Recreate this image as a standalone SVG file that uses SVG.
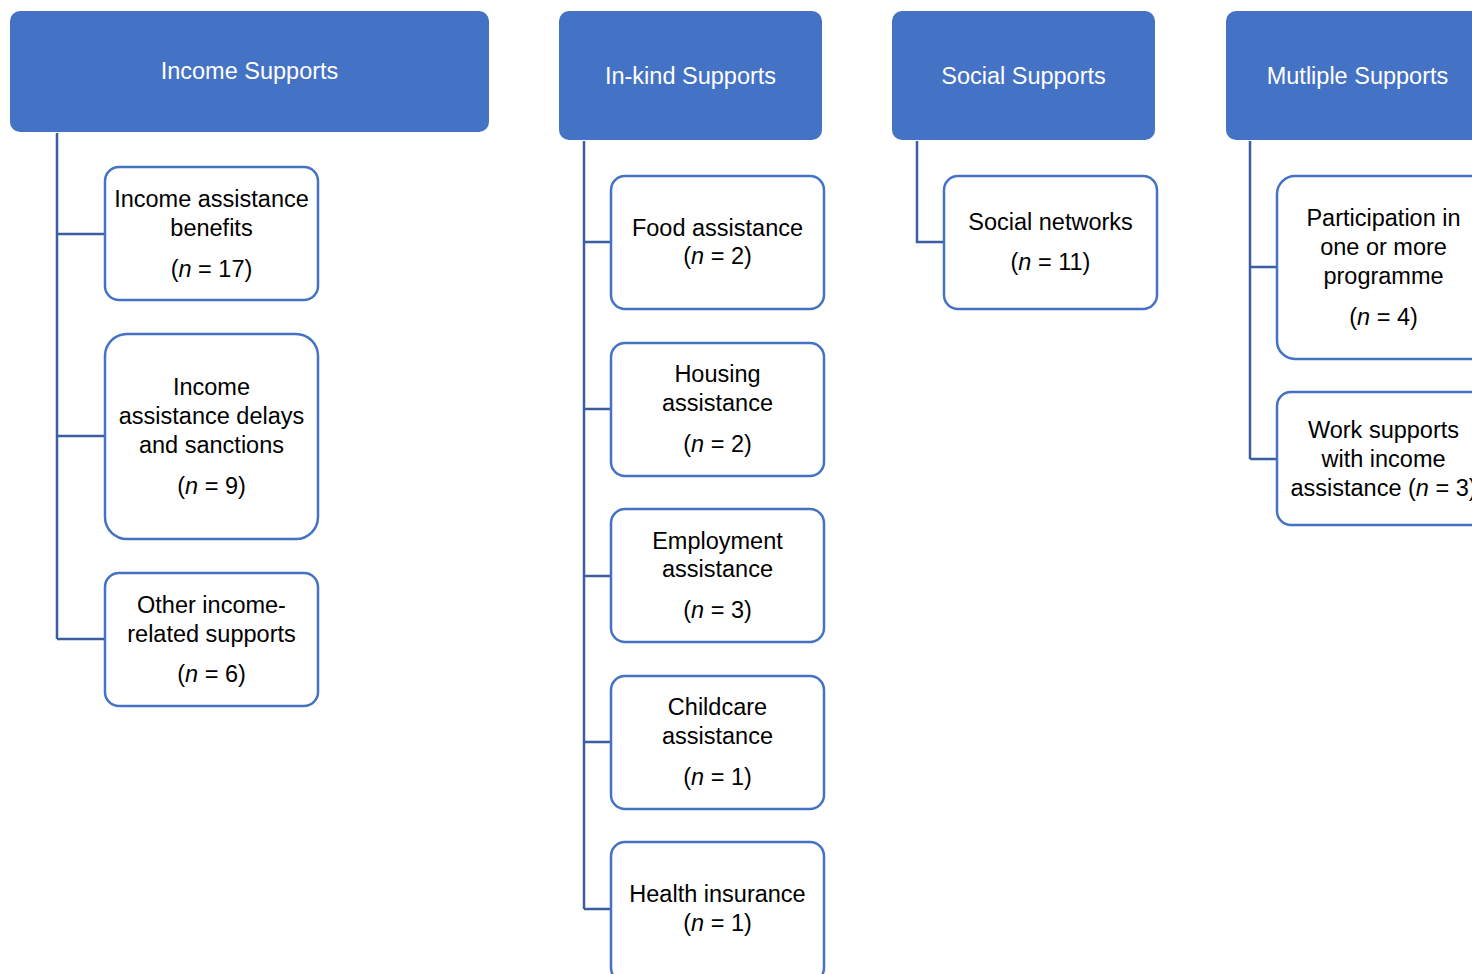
<svg xmlns="http://www.w3.org/2000/svg" width="1472" height="974" viewBox="0 0 1472 974">
<style>
.hdr{fill:#4472C4;}
.box{fill:#fff;stroke:#4472C4;stroke-width:2.5;}
.conn{fill:none;stroke:#3A5EA0;stroke-width:2.5;}
text{font-family:"Liberation Sans",Arial,sans-serif;font-size:23.5px;text-anchor:middle;fill:#000;}
.ht{fill:#fff;}
</style>
<rect width="1472" height="974" fill="#fff"/>
<g id="connectors">
<path class="conn" d="M57,133 V639 M57,234 H105 M57,436 H105 M57,639 H105"/>
<path class="conn" d="M584,141 V909 M584,242 H611 M584,409 H611 M584,576 H611 M584,742 H611 M584,909 H611"/>
<path class="conn" d="M917,141 V242 H944"/>
<path class="conn" d="M1250,141 V459 M1250,267 H1277 M1250,459 H1277"/>
</g>
<g id="income-supports"><rect class="hdr" x="10" y="11" width="479" height="121" rx="10"/><text class="ht" x="249.5" y="79">Income Supports</text></g>
<g id="inkind-supports"><rect class="hdr" x="559" y="11" width="263" height="129" rx="10"/><text class="ht" x="690.5" y="84">In-kind Supports</text></g>
<g id="social-supports"><rect class="hdr" x="892" y="11" width="263" height="129" rx="10"/><text class="ht" x="1023.5" y="84">Social Supports</text></g>
<g id="multiple-supports"><rect class="hdr" x="1226" y="11" width="263" height="129" rx="10"/><text class="ht" x="1357.5" y="84">Mutliple Supports</text></g>

<g id="income-benefits"><rect class="box" x="105" y="167" width="213" height="133" rx="14"/><text x="211.5" y="207">Income assistance</text><text x="211.5" y="236">benefits</text><text x="211.5" y="277">(<tspan font-style="italic">n</tspan> = 17)</text></g>
<g id="income-delays"><rect class="box" x="105" y="334" width="213" height="205" rx="22"/><text x="211.5" y="395">Income</text><text x="211.5" y="424">assistance delays</text><text x="211.5" y="453">and sanctions</text><text x="211.5" y="494">(<tspan font-style="italic">n</tspan> = 9)</text></g>
<g id="income-other"><rect class="box" x="105" y="573" width="213" height="133" rx="14"/><text x="211.5" y="613">Other income-</text><text x="211.5" y="642">related supports</text><text x="211.5" y="682">(<tspan font-style="italic">n</tspan> = 6)</text></g>

<g id="food"><rect class="box" x="611" y="176" width="213" height="133" rx="14"/><text x="717.5" y="236">Food assistance</text><text x="717.5" y="264">(<tspan font-style="italic">n</tspan> = 2)</text></g>
<g id="housing"><rect class="box" x="611" y="343" width="213" height="133" rx="14"/><text x="717.5" y="382">Housing</text><text x="717.5" y="411">assistance</text><text x="717.5" y="452">(<tspan font-style="italic">n</tspan> = 2)</text></g>
<g id="employment"><rect class="box" x="611" y="509" width="213" height="133" rx="14"/><text x="717.5" y="549">Employment</text><text x="717.5" y="577">assistance</text><text x="717.5" y="618">(<tspan font-style="italic">n</tspan> = 3)</text></g>
<g id="childcare"><rect class="box" x="611" y="676" width="213" height="133" rx="14"/><text x="717.5" y="715">Childcare</text><text x="717.5" y="744">assistance</text><text x="717.5" y="785">(<tspan font-style="italic">n</tspan> = 1)</text></g>
<g id="health"><rect class="box" x="611" y="842" width="213" height="140" rx="14"/><text x="717.5" y="902">Health insurance</text><text x="717.5" y="931">(<tspan font-style="italic">n</tspan> = 1)</text></g>

<g id="social-networks"><rect class="box" x="944" y="176" width="213" height="133" rx="14"/><text x="1050.5" y="230">Social networks</text><text x="1050.5" y="270">(<tspan font-style="italic">n</tspan> = 11)</text></g>

<g id="participation"><rect class="box" x="1277" y="176" width="213" height="183" rx="18"/><text x="1383.5" y="226">Participation in</text><text x="1383.5" y="255">one or more</text><text x="1383.5" y="284">programme</text><text x="1383.5" y="325">(<tspan font-style="italic">n</tspan> = 4)</text></g>
<g id="work-supports"><rect class="box" x="1277" y="392" width="213" height="133" rx="14"/><text x="1383.5" y="438">Work supports</text><text x="1383.5" y="467">with income</text><text x="1383.5" y="496">assistance (<tspan font-style="italic">n</tspan> = 3)</text></g>
</svg>
